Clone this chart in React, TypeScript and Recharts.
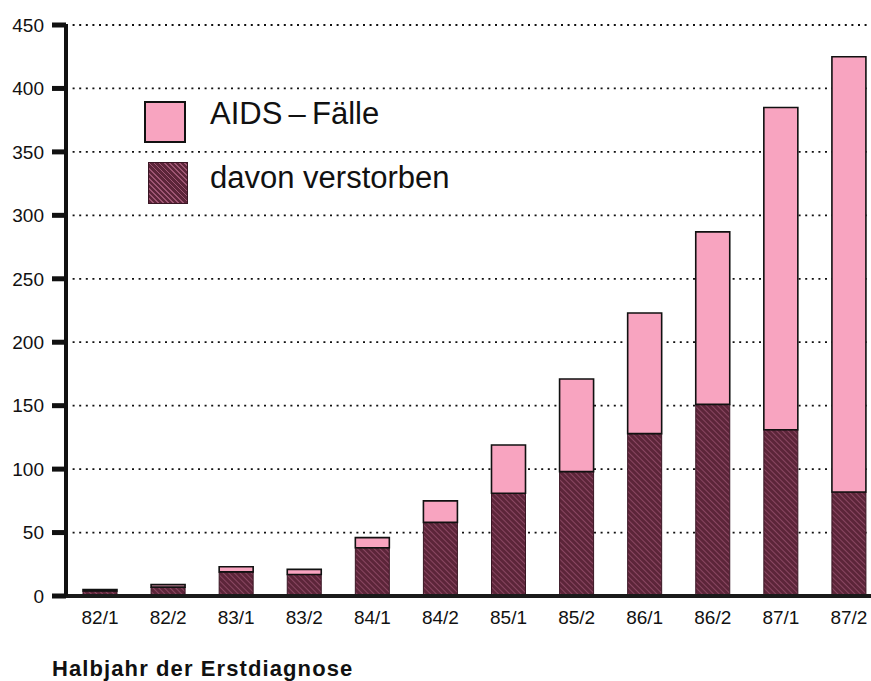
import { BarChart, Bar, XAxis, YAxis, CartesianGrid } from 'recharts'

// Halbjahr der Erstdiagnose
const periods = ['82/1', '82/2', '83/1', '83/2', '84/1', '84/2', '85/1', '85/2', '86/1', '86/2', '87/1', '87/2']
// AIDS-Fälle insgesamt
const cases = [5, 9, 23, 21, 46, 75, 119, 171, 223, 287, 385, 425]
// davon verstorben
const deceased = [4, 7, 19, 17, 38, 58, 81, 98, 128, 151, 131, 82]
const yTicks = [0, 50, 100, 150, 200, 250, 300, 350, 400, 450]

const PINK = '#f8a4c0'
const MAROON = '#5c2539'
const STRIPE = '#9e5573'
const FONT = '"Liberation Sans", Arial, Helvetica, sans-serif'

const legendItems = [
  { label: 'AIDS\u2009–\u2009Fälle', kind: 'pink' },
  { label: 'davon verstorben', kind: 'hatch' },
]

// stacked: hatched part at the bottom, rest of the cases in pink on top
const data = periods.map((p, i) => ({
  period: p,
  deceased: deceased[i],
  rest: cases[i] - deceased[i],
}))

const hatchBg = `repeating-linear-gradient(45deg, ${MAROON} 0px, ${MAROON} 2.4px, ${STRIPE} 2.4px, ${STRIPE} 3.6px)`

function Swatch({ kind }: { kind: string }) {
  if (kind === 'pink') {
    return <div style={{ width: 42, height: 42, background: PINK, border: '2px solid #111', boxSizing: 'border-box' }} />
  }
  return (
    <div style={{ width: 40, height: 42, marginLeft: 4, boxSizing: 'border-box', border: '1px solid #3a1624', background: hatchBg }} />
  )
}

export default function App() {
  return (
    <div style={{ position: 'absolute', left: 0, top: 0, width: 871, height: 681, overflow: 'hidden', background: '#fff', fontFamily: FONT }}>
      <BarChart width={895} height={681} data={data} margin={{ top: 25, right: 12, left: 0, bottom: 45 }} barSize={34}>
        <defs>
          <pattern id="hatch" width="4" height="4" patternUnits="userSpaceOnUse" patternTransform="rotate(-45)">
            <rect width="4" height="4" fill={MAROON} />
            <line x1="0" y1="0" x2="0" y2="4" stroke={STRIPE} strokeWidth="1.4" />
          </pattern>
        </defs>
        <CartesianGrid vertical={false} stroke="#111" strokeDasharray="2 4.6" strokeWidth={1.8} />
        <XAxis
          dataKey="period"
          axisLine={{ stroke: '#1a1a1a', strokeWidth: 4 }}
          tickLine={false}
          tickSize={0}
          tickMargin={15}
          height={40}
          fontSize={19}
          tick={{ fill: '#111', fontSize: 19, fontFamily: FONT }}
          interval={0}
        />
        <YAxis
          width={66}
          domain={[0, 450]}
          ticks={yTicks}
          axisLine={{ stroke: '#111', strokeWidth: 4 }}
          tickLine={{ stroke: '#111', strokeWidth: 5 }}
          tickSize={14}
          tickMargin={8}
          fontSize={19}
          tick={{ fill: '#111', fontSize: 19, fontFamily: FONT }}
        />
        <Bar dataKey="deceased" stackId="a" fill="url(#hatch)" stroke="#3a1624" strokeWidth={1} isAnimationActive={false} />
        <Bar dataKey="rest" stackId="a" fill={PINK} stroke="#111" strokeWidth={1.6} isAnimationActive={false} />
      </BarChart>

      <div style={{ position: 'absolute', left: 144, top: 101 }}>
        {legendItems.map((item, i) => (
          <div key={item.label} style={{ display: 'flex', alignItems: 'flex-start', height: 42, marginBottom: i === 0 ? 19 : 0 }}>
            <Swatch kind={item.kind} />
            <span
              style={{
                fontSize: 31,
                color: '#111',
                marginLeft: item.kind === 'pink' ? 24 : 22,
                lineHeight: '31px',
                marginTop: item.kind === 'pink' ? -3 : 0,
                whiteSpace: 'nowrap',
              }}
            >
              {item.label}
            </span>
          </div>
        ))}
      </div>

      <div style={{ position: 'absolute', left: 52, top: 656, fontSize: 22, fontWeight: 'bold', letterSpacing: 1.1, color: '#111' }}>
        Halbjahr der Erstdiagnose
      </div>
    </div>
  )
}
